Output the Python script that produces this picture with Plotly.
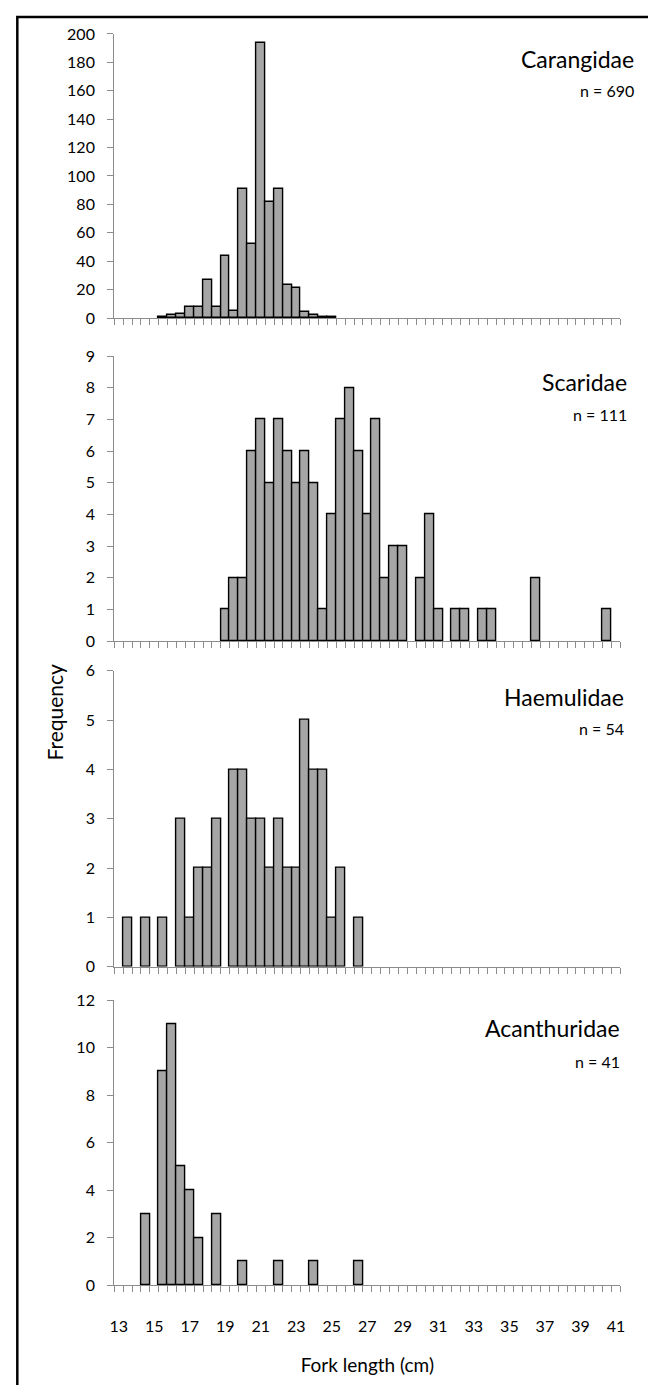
import plotly.graph_objects as go

W, H = 648, 1385
FONT = "Lato"

# ---------------- data (fork length bins of 0.5 cm) ----------------
tick_labels = [13, 15, 17, 19, 21, 23, 25, 27, 29, 31, 33, 35, 37, 39, 41]

carangidae_len = [15.5, 16, 16.5, 17, 17.5, 18, 18.5, 19, 19.5, 20, 20.5, 21, 21.5, 22, 22.5, 23, 23.5, 24, 24.5, 25]
carangidae_freq = [1, 2, 3, 8, 8, 27, 8, 44, 5, 91, 52, 194, 82, 91, 23, 21, 4, 2, 1, 1]

scaridae_len = [19, 19.5, 20, 20.5, 21, 21.5, 22, 22.5, 23, 23.5, 24, 24.5, 25, 25.5, 26, 26.5, 27, 27.5, 28, 28.5, 29,
                30, 30.5, 31, 32, 32.5, 33.5, 34, 36.5, 40.5]
scaridae_freq = [1, 2, 2, 6, 7, 5, 7, 6, 5, 6, 5, 1, 4, 7, 8, 6, 4, 7, 2, 3, 3,
                 2, 4, 1, 1, 1, 1, 1, 2, 1]

haemulidae_len = [13.5, 14.5, 15.5, 16.5, 17, 17.5, 18, 18.5, 19.5, 20, 20.5, 21, 21.5, 22, 22.5, 23, 23.5, 24, 24.5, 25, 25.5, 26.5]
haemulidae_freq = [1, 1, 1, 3, 1, 2, 2, 3, 4, 4, 3, 3, 2, 3, 2, 2, 5, 4, 4, 1, 2, 1]

acanthuridae_len = [14.5, 15.5, 16, 16.5, 17, 17.5, 18.5, 20, 22, 24, 26.5]
acanthuridae_freq = [3, 9, 11, 5, 4, 2, 3, 1, 1, 1, 1]

families = ["Carangidae", "Scaridae", "Haemulidae", "Acanthuridae"]
n_labels = ["n = 690", "n = 111", "n = 54", "n = 41"]
y_max = [200, 9, 6, 12]
y_step = [20, 1, 1, 2]

# ---------------- layout geometry (pixels) ----------------
AX_L, AX_R = 111, 625
panel_px = [(24.3, 312.3), (351, 640), (670, 970), (1004, 1293)]   # (top of y range, baseline)
title_px = [50, 377, 697, 1032]
n_px = [82, 410, 729, 1066]
title_right = [641, 634, 631, 627]

def px_x(p):
    return p / W

def px_y(p):
    return 1 - p / H

series = [(carangidae_len, carangidae_freq), (scaridae_len, scaridae_freq),
          (haemulidae_len, haemulidae_freq), (acanthuridae_len, acanthuridae_freq)]

fig = go.Figure()
AXIS_GREY = "#8c8c8c"
layout = dict(
    width=W, height=H, autosize=False,
    margin=dict(l=0, r=0, t=0, b=0),
    paper_bgcolor="white", plot_bgcolor="white",
    showlegend=False, bargap=0,
    font=dict(family=FONT, size=16, color="#000000"),
)
annotations = []
for i, (xs, ys) in enumerate(series):
    k = "" if i == 0 else str(i + 1)
    fig.add_trace(go.Bar(
        x=xs, y=ys, width=0.5,
        marker=dict(color="#a6a6a6", line=dict(color="#000000", width=1.4)),
        xaxis="x" + k, yaxis="y" + k,
    ))
    top, base = panel_px[i]
    layout["xaxis" + k] = dict(
        domain=[px_x(AX_L), px_x(AX_R)],
        anchor="y" + k,
        range=[12.75, 41.25],
        tickmode="array", tickvals=tick_labels, ticktext=[str(v) for v in tick_labels],
        ticks="", showticklabels=(i == 3),
        ticklabelstandoff=26,
        tickfont=dict(family=FONT, size=16, color="#000000"),
        showline=True, linecolor=AXIS_GREY, linewidth=1.3,
        showgrid=False, zeroline=False, fixedrange=True,
        minor=dict(ticks="outside", ticklen=6, tickwidth=1, tickcolor=AXIS_GREY,
                   tick0=12.75, dtick=0.5, showgrid=False),
    )
    if i == 3:
        layout["xaxis" + k]["title"] = dict(text="Fork length (cm)", standoff=25,
                                            font=dict(family=FONT, size=19, color="#000000"))
    layout["yaxis" + k] = dict(
        domain=[px_y(base), px_y(top)],
        anchor="x" + k,
        range=[0, y_max[i]],
        tickmode="linear", tick0=0, dtick=y_step[i],
        ticks="outside", ticklen=6, tickwidth=1, tickcolor=AXIS_GREY,
        ticklabelstandoff=9,
        tickfont=dict(family=FONT, size=16, color="#000000"),
        showline=True, linecolor=AXIS_GREY, linewidth=1.3,
        showgrid=False, zeroline=False, fixedrange=True,
    )
    annotations.append(dict(text=families[i], xref="paper", yref="paper",
                            x=px_x(title_right[i]), y=px_y(title_px[i]),
                            xanchor="right", yanchor="middle", showarrow=False,
                            font=dict(family=FONT, size=23, color="#000000")))
    annotations.append(dict(text=n_labels[i], xref="paper", yref="paper",
                            x=px_x(title_right[i]), y=px_y(n_px[i]),
                            xanchor="right", yanchor="middle", showarrow=False,
                            font=dict(family=FONT, size=16, color="#000000")))

annotations.append(dict(text="Frequency", xref="paper", yref="paper",
                        x=px_x(50), y=px_y(712), textangle=-90,
                        xanchor="center", yanchor="middle", showarrow=False,
                        font=dict(family=FONT, size=21, color="#000000")))
layout["annotations"] = annotations
layout["shapes"] = [dict(type="rect", xref="paper", yref="paper",
                         x0=px_x(12.5), x1=px_x(W + 20), y0=px_y(H + 20), y1=px_y(7),
                         line=dict(color="#000000", width=2.5), fillcolor="rgba(0,0,0,0)",
                         layer="above")]
fig.update_layout(**layout)
fig.write_html("out.html", config={"displayModeBar": False},
               post_script="document.body.style.margin='0';document.body.style.overflow='hidden';")
